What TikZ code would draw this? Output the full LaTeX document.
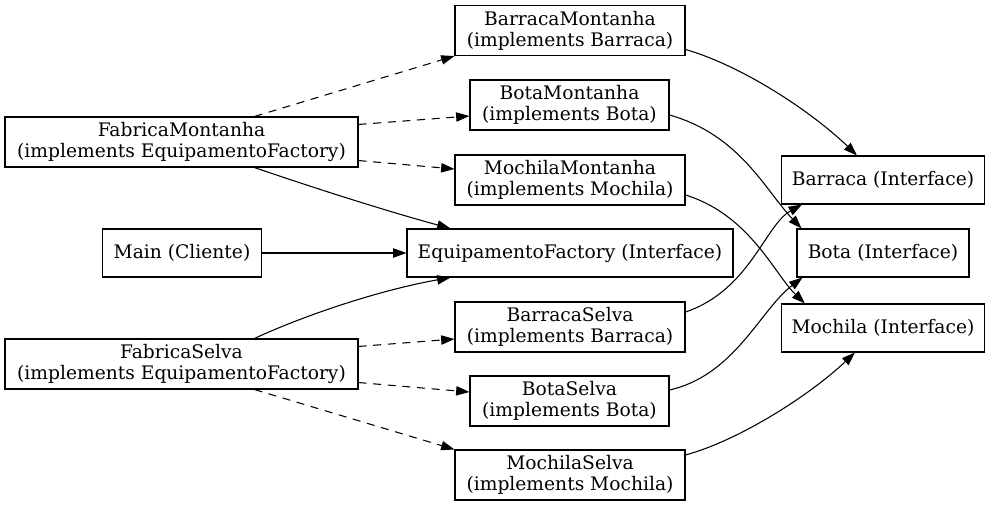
\documentclass[tikz,border=0pt]{standalone}
\usepackage{fontspec}
\setmainfont{DejaVu Serif}
\usetikzlibrary{arrows.meta,calc}
\tikzset{
  box/.style={draw=black, line width=0.8pt, rectangle, inner sep=0pt, align=center,
    font=\fontsize{14pt}{15.75pt}\selectfont, minimum height=37.5pt},
  ibox/.style={box, minimum height=36pt},
  edge/.style={line width=0.8pt, -{Triangle[length=10pt,width=7pt]}},
  dedge/.style={edge, dash pattern=on 6pt off 5pt},
}
\begin{document}
\begin{tikzpicture}[x=0.75pt,y=-0.75pt]
\useasboundingbox (0,0) rectangle (989,507);
% middle column
\node[box, minimum width=172.5pt] (BM) at (570,30.5) {BarracaMontanha\\(implements Barraca)};
\node[box, minimum width=149.25pt] (BoM) at (569.5,105) {BotaMontanha\\(implements Bota)};
\node[box, minimum width=172.5pt] (MM) at (570,180) {MochilaMontanha\\(implements Mochila)};
\node[ibox, minimum width=244.5pt] (EF) at (570,253) {EquipamentoFactory (Interface)};
\node[box, minimum width=172.5pt] (BS) at (570,327) {BarracaSelva\\(implements Barraca)};
\node[box, minimum width=149.25pt] (BoS) at (569.5,401) {BotaSelva\\(implements Bota)};
\node[box, minimum width=172.5pt] (MS) at (570,475) {MochilaSelva\\(implements Mochila)};
% left column
\node[box, minimum width=264.75pt] (FM) at (181.5,142) {FabricaMontanha\\(implements EquipamentoFactory)};
\node[ibox, minimum width=119.25pt] (Main) at (182,253) {Main (Cliente)};
\node[box, minimum width=264.75pt] (FS) at (181.5,364) {FabricaSelva\\(implements EquipamentoFactory)};
% right column
\node[ibox, minimum width=152.25pt] (Bar) at (883,180) {Barraca (Interface)};
\node[ibox, minimum width=129pt] (Bota) at (883,253) {Bota (Interface)};
\node[ibox, minimum width=152.25pt] (Moc) at (883,328) {Mochila (Interface)};
% left edges
\draw[dedge] ($(FM.north west)+(250,0)$) -- (BM.south west);
\draw[dedge] ($(FM.north east)+(0,8)$) -- ($(BoM.west)+(0,11)$);
\draw[dedge] ($(FM.south east)+(0,-7)$) -- ($(MM.west)+(0,-11)$);
\draw[edge] ($(FM.south west)+(250,0)$) .. controls (320,190) and (390,212) .. ($(EF.north west)+(44,0)$);
\draw[edge] (Main.east) -- (EF.west);
\draw[edge] ($(FS.north west)+(250,0)$) .. controls (305,315) and (380,290) .. ($(EF.south west)+(44,0)$);
\draw[dedge] ($(FS.north east)+(0,8)$) -- ($(BS.west)+(0,12)$);
\draw[dedge] ($(FS.south east)+(0,-7)$) -- ($(BoS.west)+(0,-9)$);
\draw[dedge] ($(FS.south west)+(250,0)$) -- (MS.north west);
% right edges
\draw[edge] ($(BM.east)+(0,19)$) .. controls (740,65) and (810,110) .. ($(Bar.north west)+(76,0)$);
\draw[edge] ($(BoM.east)+(0,10)$) .. controls (740,135) and (765,190) .. ($(Bota.north west)+(5,0)$);
\draw[edge] ($(MM.east)+(0,15)$) .. controls (750,215) and (775,275) .. ($(Moc.north west)+(24,0)$);
\draw[edge] ($(BS.east)+(0,-15)$) .. controls (750,290) and (765,225) .. ($(Bar.south west)+(21,0)$);
\draw[edge] ($(BoS.east)+(0,-11)$) .. controls (735,375) and (760,310) .. ($(Bota.south west)+(6,0)$);
\draw[edge] ($(MS.east)+(0,-20)$) .. controls (740,440) and (810,395) .. ($(Moc.south west)+(74,0)$);
\end{tikzpicture}
\end{document}
